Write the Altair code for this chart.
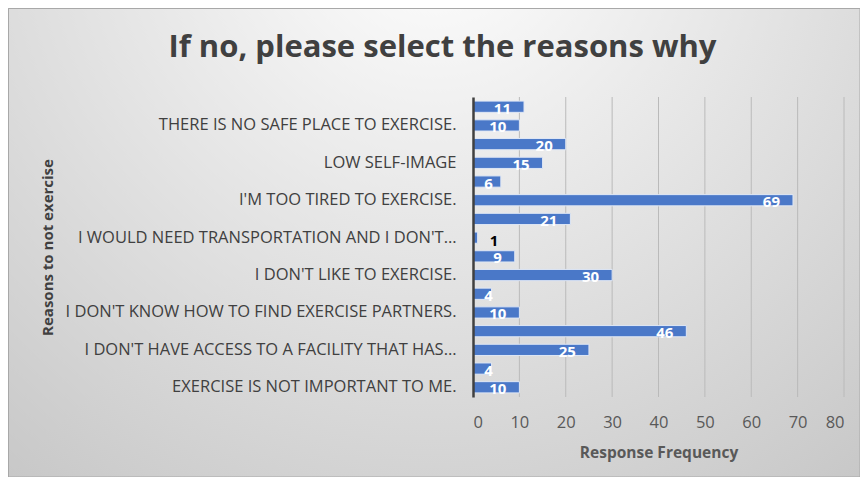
import json
import altair as alt
import pandas as pd

# 16 bars, top to bottom; only every other category label is shown (as in the original)
labels = [
    "", "THERE IS NO SAFE PLACE TO EXERCISE.",
    "", "LOW SELF-IMAGE",
    "", "I'M TOO TIRED TO EXERCISE.",
    "", "I WOULD NEED TRANSPORTATION AND I DON'T…",
    "", "I DON'T LIKE TO EXERCISE.",
    "", "I DON'T KNOW HOW TO FIND EXERCISE PARTNERS.",
    "", "I DON'T HAVE ACCESS TO A FACILITY THAT HAS…",
    "", "EXERCISE IS NOT IMPORTANT TO ME.",
]
values = [11, 10, 20, 15, 6, 69, 21, 1, 9, 30, 4, 10, 46, 25, 4, 10]
x_ticks = [0, 10, 20, 30, 40, 50, 60, 70, 80]

df = pd.DataFrame({"idx": list(range(len(values))), "value": values})
grid_df = pd.DataFrame({"tick": x_ticks[1:]})

W, H = 371, 300
PAD = {"left": 465, "top": 89, "right": 16, "bottom": 80}
FONT = "Open Sans"

label_expr = json.dumps(labels) + "[datum.value]"
x_scale = alt.Scale(domain=[0, 80], nice=False)

y_enc = alt.Y("idx:O", sort="ascending",
              scale=alt.Scale(paddingInner=0.4, paddingOuter=0.22),
              axis=alt.Axis(title="Reasons to not exercise", labelExpr=label_expr,
                            ticks=False, domain=True, domainColor="#404040", domainWidth=2.5,
                            labelFont=FONT, labelFontSize=16.5, labelColor="#404040",
                            labelPadding=17, labelLimit=500,
                            titleFont=FONT, titleFontSize=15, titleFontWeight="bold",
                            titleColor="#404040", titleX=-426, titleY=H / 2,
                            titleAngle=-90, titleAlign="center", titleBaseline="middle",
                            grid=False, zindex=1))

x_enc = alt.X("value:Q", scale=x_scale,
              axis=alt.Axis(title="Response Frequency", values=x_ticks, ticks=False,
                            domain=False, grid=False,
                            labelFont=FONT, labelFontSize=16.5, labelColor="#595959",
                            labelPadding=17,
                            titleFont=FONT, titleFontSize=15.5, titleFontWeight="bold",
                            titleColor="#595959", titlePadding=15, zindex=1))

bg = alt.Chart(df).mark_rect(
    color=alt.RadialGradient(gradient="radial", x1=0.5, y1=0.12, r1=0.0,
                             x2=0.5, y2=0.12, r2=0.85,
                             stops=[alt.GradientStop(offset=0, color="#ffffff"),
                                    alt.GradientStop(offset=1, color="#c6c6c6")]),
    stroke="#a8a8a8", strokeWidth=1,
).encode(x=alt.value(-PAD["left"] + 0.5), x2=alt.value(W + PAD["right"]),
         y=alt.value(-PAD["top"] + 0.5), y2=alt.value(H + PAD["bottom"]))

grid = alt.Chart(grid_df).mark_rule(color="#bababa", strokeWidth=1).encode(
    x=alt.X("tick:Q", scale=x_scale), y=alt.value(0), y2=alt.value(H))

bars = alt.Chart(df).mark_bar(color="#4a78c8", stroke="#dfe7f5", strokeWidth=1).encode(
    y=y_enc, x=x_enc)

inside = alt.Chart(df).transform_filter("datum.value >= 3").transform_calculate(
    lx="max(datum.value, 7.1)").mark_text(
    align="right", baseline="middle", dx=-13, dy=2, color="white",
    font=FONT, fontSize=15, fontWeight="bold").encode(
    y=alt.Y("idx:O", sort="ascending"), x="lx:Q", text="value:Q")

outside = alt.Chart(df).transform_filter("datum.value < 3").mark_text(
    align="left", baseline="middle", dx=12, dy=3, color="black",
    font=FONT, fontSize=15, fontWeight="bold").encode(
    y=alt.Y("idx:O", sort="ascending"), x="value:Q", text="value:Q")

chart = alt.layer(bg, grid, bars, inside, outside).properties(
    width=W, height=H,
    padding=PAD,
    autosize=alt.AutoSizeParams(type="none"),
    title=alt.TitleParams("If no, please select the reasons why", font=FONT, fontSize=31,
                          fontWeight="bold", color="#404040", anchor="middle",
                          baseline="alphabetic",
                          frame="group", dx=-216, offset=0, dy=80, zindex=1),
).configure_view(stroke=None).configure(background="white")

chart.save("out.html", embed_options={"renderer": "svg", "actions": False})
